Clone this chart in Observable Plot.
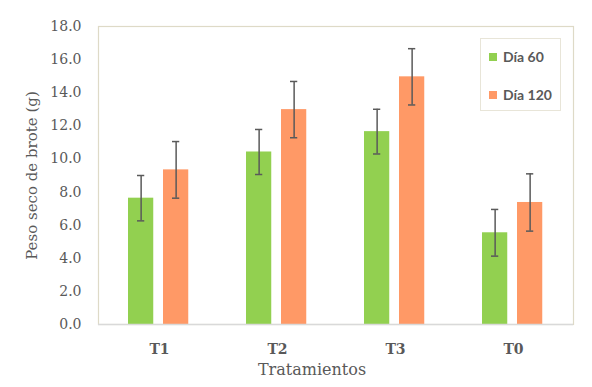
<!DOCTYPE html>
<html>
<head>
<meta charset="utf-8">
<script src="https://cdn.jsdelivr.net/npm/d3@7"></script>
<script src="https://cdn.jsdelivr.net/npm/@observablehq/plot@0.6"></script>
<style>
  html, body { margin: 0; padding: 0; background: #fff; }
  #wrap { position: relative; width: 592px; height: 387px; }
  #legend { position: absolute; left: 480px; top: 38px; width: 81px; height: 73px;
    border: 1px solid #e8e5d8; box-sizing: border-box; font-family: Lato, "Open Sans", sans-serif;
    font-weight: bold; font-size: 14px; color: #595959; }
  .item { position: absolute; left: 8px; display: flex; align-items: center; white-space: nowrap; }
  .sw { width: 8px; height: 8px; margin-right: 6px; }
</style>
</head>
<body>
<div id="wrap"></div>
<script>
const treatments = ["T1", "T2", "T3", "T0"];
const series = ["Día 60", "Día 120"];
const colors = ["#92d050", "#ff9966"];
const day60 = [7.63, 10.42, 11.65, 5.54];
const day60Err = [1.37, 1.36, 1.35, 1.41];
const day120 = [9.34, 12.98, 14.96, 7.37];
const day120Err = [1.71, 1.70, 1.70, 1.73];
const yTicks = [0, 2, 4, 6, 8, 10, 12, 14, 16, 18];
const xTitle = "Tratamientos";
const yTitle = "Peso seco de brote (g)";

const rows = [];
treatments.forEach((t, i) => {
  rows.push({t, s: series[0], v: day60[i], e: day60Err[i]});
  rows.push({t, s: series[1], v: day120[i], e: day120Err[i]});
});
const g = rows.filter(d => d.s === series[0]);
const o = rows.filter(d => d.s === series[1]);

// layout within each band (band width ~118.75px)
const bw = 118.75;
const gL = 28, gR = bw - 54, oL = 63, oR = bw - 89;
const gDx = (gL + (bw - gR)) / 2 - bw / 2;
const oDx = (oL + (bw - oR)) / 2 - bw / 2;
const capHalf = 4;

const errMarks = (data, dx, L, R) => {
  const c = (L + (bw - R)) / 2;
  return [
    Plot.ruleX(data, {x: "t", y1: d => d.v - d.e, y2: d => d.v + d.e, dx, stroke: "#5a5a5a", strokeWidth: 1.5}),
    Plot.tickY(data, {x: "t", y: d => d.v - d.e, insetLeft: c - capHalf, insetRight: bw - c - capHalf, stroke: "#5a5a5a", strokeWidth: 1.5}),
    Plot.tickY(data, {x: "t", y: d => d.v + d.e, insetLeft: c - capHalf, insetRight: bw - c - capHalf, stroke: "#5a5a5a", strokeWidth: 1.5})
  ];
};

const chart = Plot.plot({
  width: 592,
  height: 387,
  marginLeft: 98,
  marginRight: 19,
  marginTop: 26,
  marginBottom: 63,
  style: {fontFamily: "DejaVu Serif", fontSize: "14px", color: "#595959", background: "#fff"},
  x: {domain: treatments, padding: 0},
  y: {domain: [0, 18]},
  marks: [
    Plot.frame({stroke: "#dedac7", strokeWidth: 1.2}),
    Plot.barY(g, {x: "t", y: "v", fill: colors[0], insetLeft: gL, insetRight: gR}),
    Plot.barY(o, {x: "t", y: "v", fill: colors[1], insetLeft: oL, insetRight: oR}),
    ...errMarks(g, gDx, gL, gR),
    ...errMarks(o, oDx, oL, oR),
    Plot.ruleY([0], {stroke: "#d9d9d9", strokeWidth: 1.5}),
    Plot.axisY(yTicks, {tickSize: 0, tickPadding: 17, tickFormat: d => d.toFixed(1), fontSize: 14, fill: "#595959", label: null}),
    Plot.axisX({tickSize: 0, tickPadding: 20, fontSize: 14, fontWeight: "bold", fill: "#595959", label: null}),
    Plot.text([xTitle], {frameAnchor: "bottom", dy: 50, dx: -24, fontSize: 16, fill: "#595959"}),
    Plot.text([yTitle], {frameAnchor: "left", textAnchor: "middle", dx: -66, rotate: -90, fontSize: 15, fill: "#595959"})
  ]
});

const wrap = document.getElementById("wrap");
wrap.appendChild(chart);
const legend = document.createElement("div");
legend.id = "legend";
series.forEach((s, i) => {
  const it = document.createElement("div");
  it.className = "item";
  it.style.top = (i === 0 ? 9 : 47) + "px";
  const sw = document.createElement("span");
  sw.className = "sw";
  sw.style.background = colors[i];
  const tx = document.createElement("span");
  tx.textContent = s;
  it.appendChild(sw); it.appendChild(tx);
  legend.appendChild(it);
});
wrap.appendChild(legend);
</script>
</body>
</html>
